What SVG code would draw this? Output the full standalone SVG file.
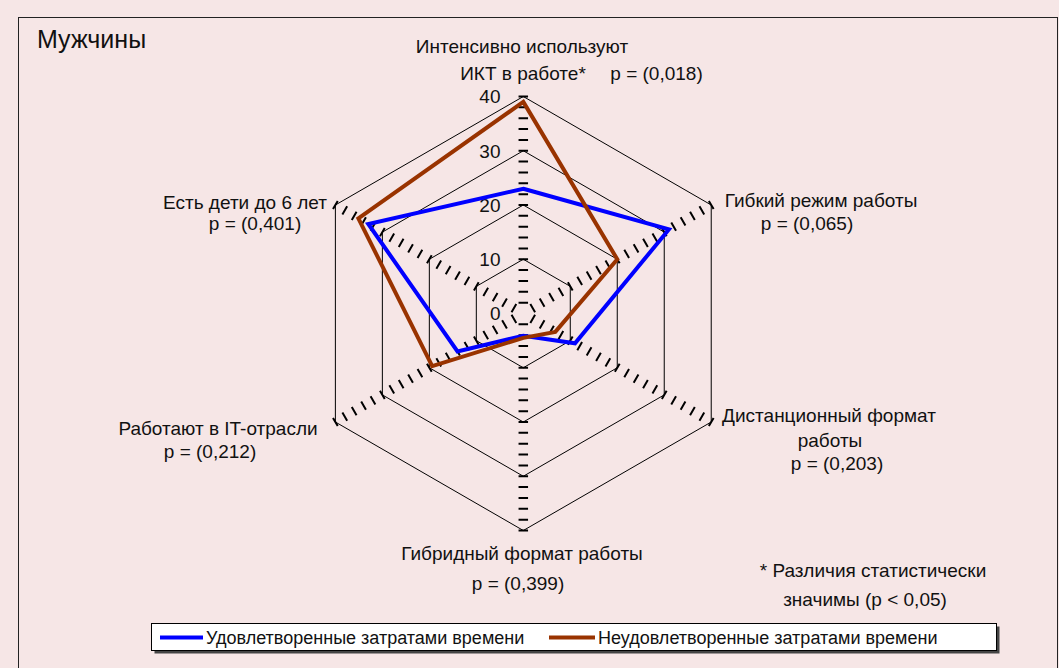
<svg xmlns="http://www.w3.org/2000/svg" xmlns:xlink="http://www.w3.org/1999/xlink" width="1059" height="668" viewBox="0 0 1059 668">
<style>
text{font-family:"Liberation Sans",Arial,sans-serif;fill:#111;}
.lbl{font-size:19px;}
.ttl{font-size:25px;}
.leg{font-size:18px;}
.ring{fill:none;stroke:#000;stroke-width:1;}
.tick{stroke:#000;stroke-width:9.5;stroke-dasharray:2 8.85;}
.ser{fill:none;stroke-width:4;stroke-linejoin:miter;}
</style>
<defs>
<line id="spoke" class="tick" x1="0" y1="-9.85" x2="0" y2="-218"/>
</defs>
<rect x="0" y="0" width="1059" height="668" fill="#F6E6E6"/>
<rect x="18.5" y="17.5" width="1039" height="670" fill="none" stroke="#222" stroke-width="1"/>
<g id="title"><text class="ttl" x="37" y="48">Мужчины</text></g>

<g id="grid" transform="translate(523.3,313.5)">
<polygon class="ring" points="0,-54.25 46.98,-27.13 46.98,27.13 0,54.25 -46.98,27.13 -46.98,-27.13"/>
<polygon class="ring" points="0,-108.5 93.96,-54.25 93.96,54.25 0,108.5 -93.96,54.25 -93.96,-54.25"/>
<polygon class="ring" points="0,-162.75 140.94,-81.38 140.94,81.38 0,162.75 -140.94,81.38 -140.94,-81.38"/>
<polygon class="ring" points="0,-217 187.92,-108.5 187.92,108.5 0,217 -187.92,108.5 -187.92,-108.5"/>
<use xlink:href="#spoke"/>
<use xlink:href="#spoke" transform="rotate(60)"/>
<use xlink:href="#spoke" transform="rotate(120)"/>
<use xlink:href="#spoke" transform="rotate(180)"/>
<use xlink:href="#spoke" transform="rotate(240)"/>
<use xlink:href="#spoke" transform="rotate(300)"/>
</g>

<g id="axis-values" class="lbl" text-anchor="end">
<text class="lbl" x="500.5" y="103.3">40</text>
<text class="lbl" x="500.5" y="157.6">30</text>
<text class="lbl" x="500.5" y="211.8">20</text>
<text class="lbl" x="500.5" y="266.1">10</text>
<text class="lbl" x="500.5" y="320.3">0</text>
</g>

<g id="series">
<polygon id="satisfied" class="ser" stroke="#0000FF" points="523.3,188.7 668.9,229.4 575,343.3 523.3,335.7 457.5,351.5 368.3,224"/>
<polygon id="unsatisfied" class="ser" stroke="#993300" points="523.3,101.9 617.3,259.3 555.3,331.9 523.3,337.9 432.2,366.1 358.4,218.3"/>
</g>

<g id="label-ikt" text-anchor="middle">
<text class="lbl" x="522" y="53">Интенсивно используют</text>
<text class="lbl" x="523" y="80">ИКТ в работе*</text>
<text class="lbl" x="656.5" y="80">p = (0,018)</text>
</g>
<g id="label-flex" text-anchor="middle">
<text class="lbl" x="821" y="207">Гибкий режим работы</text>
<text class="lbl" x="807" y="230">p = (0,065)</text>
</g>
<g id="label-remote" text-anchor="middle">
<text class="lbl" x="829" y="422">Дистанционный формат</text>
<text class="lbl" x="830" y="447">работы</text>
<text class="lbl" x="837" y="470">p = (0,203)</text>
</g>
<g id="label-hybrid" text-anchor="middle">
<text class="lbl" x="522" y="560">Гибридный формат работы</text>
<text class="lbl" x="518" y="590">p = (0,399)</text>
</g>
<g id="label-it" text-anchor="middle">
<text class="lbl" x="218" y="435">Работают в IT-отрасли</text>
<text class="lbl" x="210" y="458">p = (0,212)</text>
</g>
<g id="label-kids" text-anchor="middle">
<text class="lbl" x="245" y="209">Есть дети до 6 лет</text>
<text class="lbl" x="255" y="230">p = (0,401)</text>
</g>
<g id="note" text-anchor="middle">
<text class="lbl" x="873" y="577">* Различия статистически</text>
<text class="lbl" x="865" y="606">значимы (p &lt; 0,05)</text>
</g>

<g id="legend">
<rect x="154.5" y="626.5" width="845" height="27" fill="#444"/>
<rect x="151.5" y="623.5" width="845" height="27" fill="#fff" stroke="#000" stroke-width="1"/>
<line x1="160" y1="637.5" x2="203" y2="637.5" stroke="#0000FF" stroke-width="4"/>
<text class="leg" x="206" y="644">Удовлетворенные затратами времени</text>
<line x1="549" y1="637.5" x2="595" y2="637.5" stroke="#993300" stroke-width="4"/>
<text class="leg" x="598" y="644">Неудовлетворенные затратами времени</text>
</g>
</svg>
